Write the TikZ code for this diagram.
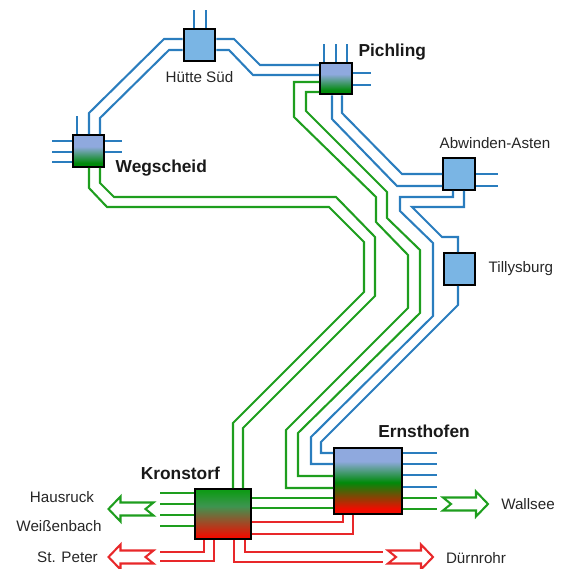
\documentclass[tikz,border=0pt]{standalone}
\usepackage{fontspec}
\setmainfont{Liberation Sans}
\usetikzlibrary{calc}
\usetikzlibrary{positioning}
\definecolor{lineblue}{HTML}{2A7DBE}
\definecolor{linegreen}{HTML}{1E9E1E}
\definecolor{linered}{HTML}{E8282A}
\definecolor{boxblue}{HTML}{7AB5E4}
\definecolor{mixblue}{HTML}{8FA9DE}
\definecolor{mixgreen}{HTML}{008A0A}
\definecolor{mixred}{HTML}{F00C00}
\definecolor{topgreen}{HTML}{109A18}
\definecolor{dullgreen}{HTML}{3D9550}
\definecolor{dullbrown}{HTML}{8A5A30}
\pgfdeclareverticalshading{bluegreen}{100bp}{color(0bp)=(mixgreen); color(31bp)=(mixgreen);
  color(57bp)=(mixblue); color(100bp)=(mixblue)}
\pgfdeclareverticalshading{bluegreenred}{100bp}{color(0bp)=(mixred); color(29bp)=(mixred);
  color(49bp)=(mixgreen); color(65bp)=(mixblue); color(100bp)=(mixblue)}
\pgfdeclareverticalshading{greenred}{100bp}{color(0bp)=(mixred); color(27bp)=(mixred);
  color(45bp)=(dullbrown); color(58bp)=(dullgreen); color(73bp)=(topgreen); color(100bp)=(topgreen)}
\tikzset{station/.style={
    draw=black, line width=1.7pt,
    minimum width=23.7pt,
    minimum height=23.7pt,
    inner sep=0pt
  },
  bluestation/.style={station, fill=boxblue},
  mixstation/.style={station, shade, shading=bluegreen},
  blueline/.style={draw=lineblue, line width=1.55pt},
  greenline/.style={draw=linegreen, line width=1.55pt},
  redline/.style={draw=linered, line width=1.55pt},
  stationname/.style={font=\fontsize{11.4}{13}\selectfont, text=black!85, inner sep=0pt},
  bigname/.style={font=\fontsize{13}{15}\selectfont\bfseries, text=black!90, inner sep=0pt},
  flow arrow/.pic={
    \draw[fill=white, line width=1.55pt, miter limit=4]
      (0,-6.5) -- (33,-6.5) -- (33,-12.5) -- (45,0) -- (33,12.5) -- (33,6.5)
      -- (0,6.5) -- (8,0) -- cycle;
  }
}
\begin{document}
\begin{tikzpicture}[x=0.75pt,y=-0.75pt]
\useasboundingbox (0,0) rectangle (562,569);

\node[bluestation] (huette)    at (199.5,45)  {};
\node[mixstation]  (wegscheid) at (88.5,151)  {};
\node[mixstation]  (pichling)  at (336,78.5)  {};
\node[bluestation] (abwinden)  at (459,174)   {};
\node[bluestation] (tillysburg) at (459.5,269) {};
\node[station, minimum width=41.7pt, minimum height=37.3pt,
  shade, shading=greenred] (kronstorf) at (223,514) {};
\node[station, minimum width=50.7pt, minimum height=49.3pt,
  shade, shading=bluegreenred] (ernsthofen) at (368,481) {};

\node[stationname, below=7pt of huette] (huettetext) {Hütte Süd};
\node[bigname, right=7.5pt of wegscheid.south east] (wegscheidtext) {Wegscheid};
\node[bigname, right=4pt of pichling.north east, yshift=7pt] (pichlingtext) {Pichling};
\node[stationname, above=6pt of abwinden, xshift=27pt] (abwindentext) {Abwinden-Asten};
\node[stationname, right=9pt of tillysburg] (tillysburgtext) {Tillysburg};
\node[bigname, above=6pt of kronstorf.north, xshift=-32pt] (kronstorftext) {Kronstorf};
\node[bigname, above=6.5pt of ernsthofen.north, xshift=42pt] (ernsthofentext) {Ernsthofen};
\node[stationname] (hausruck)   at (62,497)  {Hausruck};
\node[stationname] (weissenbach) at (59,526) {Weißenbach};
\node[stationname] (stpeter)    at (67.5,557) {St. Peter};
\node[stationname] (wallsee)    at (528,504) {Wallsee};
\node[stationname] (duernrohr)  at (476,558.5) {Dürnrohr};

% blue ring
\draw[blueline] (huette.west |- 0,39) -- (164,39) -- (89,113) -- (wegscheid.north -| 89,0);
\draw[blueline] (huette.west |- 0,50) -- (169,50) -- (100,118) -- (wegscheid.north -| 100,0);
\draw[blueline] (huette.east |- 0,39) -- (234,39) -- (260,65) -- (pichling.west |- 0,65);
\draw[blueline] (huette.east |- 0,50) -- (229,50) -- (253,75) -- (pichling.west |- 0,75);
\draw[blueline] (pichling.south -| 332,0) -- (332,119) -- (397,186) -- (abwinden.west |- 0,186);
\draw[blueline] (pichling.south -| 342,0) -- (342,113) -- (402,174) -- (abwinden.west |- 0,174);
\draw[blueline] (abwinden.south -| 453,0) -- (453,197) -- (400,197) -- (400,211) -- (433,243)
  -- (433,316) -- (311,437) -- (311,464) -- (ernsthofen.west |- 0,464);
\draw[blueline] (abwinden.south -| 464,0) -- (464,207) -- (412,207) -- (442,237) -- (458,237)
  -- (tillysburg.north -| 458,0);
\draw[blueline] (tillysburg.south -| 458,0) -- (458,305) -- (321,442) -- (321,453)
  -- (ernsthofen.west |- 0,453);

% green lines
\draw[greenline] (pichling.west |- 0,82) -- (294,82) -- (294,117) -- (376,197) -- (376,222)
  -- (408,255) -- (408,308) -- (286,430) -- (286,488) -- (ernsthofen.west |- 0,488);
\draw[greenline] (pichling.west |- 0,92) -- (306,92) -- (306,111) -- (387,192) -- (387,218)
  -- (420,250) -- (420,313) -- (298,433) -- (298,476) -- (ernsthofen.west |- 0,476);
\draw[greenline] (wegscheid.south -| 89,0) -- (89,188) -- (107,207) -- (329,207) -- (364,242)
  -- (364,292) -- (233,423) -- (kronstorf.north -| 233,0);
\draw[greenline] (wegscheid.south -| 100,0) -- (100,183) -- (114,197) -- (336,197) -- (375,237)
  -- (375,296) -- (243,428) -- (kronstorf.north -| 243,0);
\foreach \y in {498,508}
  \draw[greenline] (kronstorf.east |- 0,\y) -- (ernsthofen.west |- 0,\y);

% red lines
\draw[redline] (kronstorf.east |- 0,522) -- (343,522) -- (ernsthofen.south -| 343,0);
\draw[redline] (kronstorf.east |- 0,534) -- (353,534) -- (ernsthofen.south -| 353,0);
\coordinate (peterupper) at (160,552);
\coordinate (peterlower) at (160,561);
\coordinate (duernupper) at (383,552);
\coordinate (duernlower) at (383,562);
\draw[redline] (kronstorf.south -| 204,0) -- (204,552) -- (peterupper);
\draw[redline] (kronstorf.south -| 214,0) -- (214,561) -- (peterlower);
\draw[redline] (kronstorf.south -| 245,0) -- (245,552) -- (duernupper);
\draw[redline] (kronstorf.south -| 234,0) -- (234,562) -- (duernlower);

% open ends
\foreach \x in {194,206} {
  \coordinate (huetteup\x) at (\x,10);
  \draw[blueline] (huette.north -| huetteup\x) -- (huetteup\x);
}
\coordinate (wegscheidup) at (77,116);
\draw[blueline] (wegscheid.north -| wegscheidup) -- (wegscheidup);
\foreach \y in {141,152,162} {
  \coordinate (wegscheidleft\y) at (52,\y);
  \draw[blueline] (wegscheid.west |- wegscheidleft\y) -- (wegscheidleft\y);
}
\foreach \y in {141,152} {
  \coordinate (wegscheidright\y) at (122,\y);
  \draw[blueline] (wegscheid.east |- wegscheidright\y) -- (wegscheidright\y);
}
\foreach \x in {324,336,347} {
  \coordinate (pichlingup\x) at (\x,44);
  \draw[blueline] (pichling.north -| pichlingup\x) -- (pichlingup\x);
}
\foreach \y in {73,85} {
  \coordinate (pichlingright\y) at (371,\y);
  \draw[blueline] (pichling.east |- pichlingright\y) -- (pichlingright\y);
}
\foreach \y in {174,186} {
  \coordinate (abwindenright\y) at (498,\y);
  \draw[blueline] (abwinden.east |- abwindenright\y) -- (abwindenright\y);
}
\foreach \y in {453,464,475,487} {
  \coordinate (ernsthofenright\y) at (437,\y);
  \draw[blueline] (ernsthofen.east |- ernsthofenright\y) -- (ernsthofenright\y);
}
\foreach \y in {498,509} {
  \coordinate (ernsthofenright\y) at (437,\y);
  \draw[greenline] (ernsthofen.east |- ernsthofenright\y) -- (ernsthofenright\y);
}
\foreach \y in {493,504,515,526} {
  \coordinate (kronstorfleft\y) at (160,\y);
  \draw[greenline] (kronstorf.west |- kronstorfleft\y) -- (kronstorfleft\y);
}

% block arrows
\pic[draw=linegreen, xscale=-1] at (153.5,509) {flow arrow};
\pic[draw=linered, xscale=-1] at (153.5,557) {flow arrow};
\pic[draw=linegreen] at (443,504) {flow arrow};
\pic[draw=linered] at (388,557) {flow arrow};
\end{tikzpicture}
\end{document}
